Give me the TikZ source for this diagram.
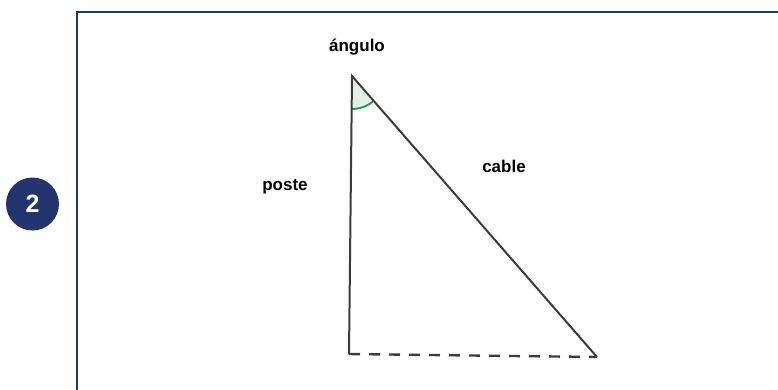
\documentclass[tikz,border=0pt]{standalone}
\usepackage{fontspec}
\setmainfont{Liberation Sans}
\usetikzlibrary{angles,positioning}
\definecolor{navy}{HTML}{23346F}
\definecolor{edge}{HTML}{3C3C3C}
\definecolor{anglegreen}{HTML}{1E9450}
\definecolor{anglefill}{HTML}{E2F1E4}

\begin{document}
\begin{tikzpicture}[x=1pt, y=-1pt, font=\bfseries\fontsize{17}{19}\selectfont,
    side/.style={draw=edge, line width=2pt},
    label/.style={inner sep=0pt, text=black}]
  \useasboundingbox (0,0) rectangle (778,389);
  % frame and number
  \draw[navy, line width=2.6pt] (77,391) -- (77,12) -- (780,12);
  \node[circle, fill=navy, minimum size=53pt, inner sep=0pt, text=white,
        font=\bfseries\fontsize{25}{27}\selectfont] (num) at (32.5,204) {2};
  % triangle
  \coordinate (top) at (352,76);
  \coordinate (base) at (349,354);
  \coordinate (tip) at (597,357);
  \pic[draw=anglegreen, fill=anglefill, line width=1.8pt, angle radius=33pt] {angle = base--top--tip};
  \draw[side] (base) -- (top) -- (tip);
  \draw[side, line width=2.4pt, dash pattern=on 11pt off 9pt] (base) -- (tip);
  \node[label] (angulo) at (357,47) {ángulo};
  \node[label] (poste) at (285,187) {poste};
  \node[label] (cable) at (504,166) {cable};
\end{tikzpicture}
\end{document}
